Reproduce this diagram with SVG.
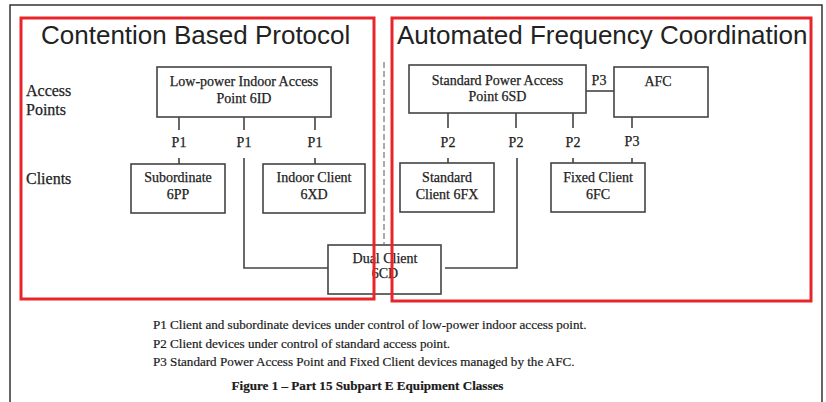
<svg xmlns="http://www.w3.org/2000/svg" width="826" height="402" viewBox="0 0 826 402">
<style>
.box{fill:#fff;stroke:#444;stroke-width:1.6}
.ln{fill:none;stroke:#444;stroke-width:1.6}
.t{font-family:"Liberation Serif","Times New Roman",serif;font-size:14px;fill:#222;stroke:#222;stroke-width:0.25;text-anchor:middle}
.lab{font-family:"Liberation Serif","Times New Roman",serif;font-size:16px;fill:#222;stroke:#222;stroke-width:0.25}
.h{font-family:"Liberation Sans",Arial,sans-serif;font-size:26px;fill:#222}
.cap{font-family:"Liberation Serif","Times New Roman",serif;font-size:13.1px;fill:#1a1a1a;stroke:#1a1a1a;stroke-width:0.2}
.red{fill:none;stroke:#e8252a;stroke-width:3}
</style>
<rect x="0" y="0" width="826" height="402" fill="#fff"/>
<path d="M10,403 V5 H822 V403" fill="none" stroke="#333" stroke-width="1.5"/>
<line x1="384" y1="62" x2="384" y2="244" stroke="#888" stroke-width="1.4" stroke-dasharray="6,3"/>
<text class="lab" x="26" y="96">Access</text>
<text class="lab" x="26" y="115">Points</text>
<text class="lab" x="26" y="184">Clients</text>
<g id="connectors">
<path class="ln" d="M179,117 V130 M244,117 V130 M315,117 V130"/>
<path class="ln" d="M179,158 V164 M315,158 V164 M244,158 V268 H328"/>
<path class="ln" d="M448,113 V128 M516,113 V128 M573,113 V128 M632,117 V128"/>
<path class="ln" d="M448,158 V163 M573,158 V163 M632,158 V163 M445,268 H517 V158"/>
<path class="ln" d="M586,91 H614"/>
<text class="t" x="179" y="147">P1</text>
<text class="t" x="244" y="147">P1</text>
<text class="t" x="315" y="147">P1</text>
<text class="t" x="448" y="147">P2</text>
<text class="t" x="516" y="147">P2</text>
<text class="t" x="573" y="147">P2</text>
<text class="t" x="632" y="146">P3</text>
<text class="t" x="599" y="85">P3</text>
</g>
<g id="n-lpap">
<rect class="box" x="157" y="67" width="174" height="50"/>
<text class="t" x="244" y="86">Low-power Indoor Access</text>
<text class="t" x="244" y="103">Point 6ID</text>
</g>
<g id="n-sub">
<rect class="box" x="131" y="164" width="94" height="49"/>
<text class="t" x="178" y="182">Subordinate</text>
<text class="t" x="178" y="199">6PP</text>
</g>
<g id="n-indoor">
<rect class="box" x="263" y="164" width="102" height="49"/>
<text class="t" x="314" y="182">Indoor Client</text>
<text class="t" x="314" y="199">6XD</text>
</g>
<g id="n-spap">
<rect class="box" x="409" y="65" width="177" height="48"/>
<text class="t" x="497.5" y="85">Standard Power Access</text>
<text class="t" x="497.5" y="101">Point 6SD</text>
</g>
<g id="n-afc">
<rect class="box" x="614" y="67" width="94" height="50"/>
<text class="t" x="658" y="86">AFC</text>
</g>
<g id="n-std">
<rect class="box" x="400" y="163" width="94" height="49"/>
<text class="t" x="447" y="182">Standard</text>
<text class="t" x="447" y="199">Client 6FX</text>
</g>
<g id="n-fixed">
<rect class="box" x="551" y="163" width="94" height="49"/>
<text class="t" x="598" y="182">Fixed Client</text>
<text class="t" x="598" y="199">6FC</text>
</g>
<g id="n-dual">
<rect class="box" x="328" y="245" width="113" height="49"/>
<text class="t" x="385" y="263">Dual Client</text>
<text class="t" x="385" y="278">6CD</text>
</g>
<rect class="red" x="21" y="18" width="353" height="281"/>
<rect class="red" x="392" y="18" width="419" height="283"/>
<text class="h" x="41" y="44">Contention Based Protocol</text>
<text class="h" x="397" y="44">Automated Frequency Coordination</text>
<text class="cap" x="153" y="329">P1 Client and subordinate devices under control of low-power indoor access point.</text>
<text class="cap" x="153" y="348">P2 Client devices under control of standard access point.</text>
<text class="cap" x="153" y="366">P3 Standard Power Access Point and Fixed Client devices managed by the AFC.</text>
<text class="cap" x="367.5" y="390" text-anchor="middle" font-weight="bold" font-size="12.7px">Figure 1 – Part 15 Subpart E Equipment Classes</text>
</svg>
